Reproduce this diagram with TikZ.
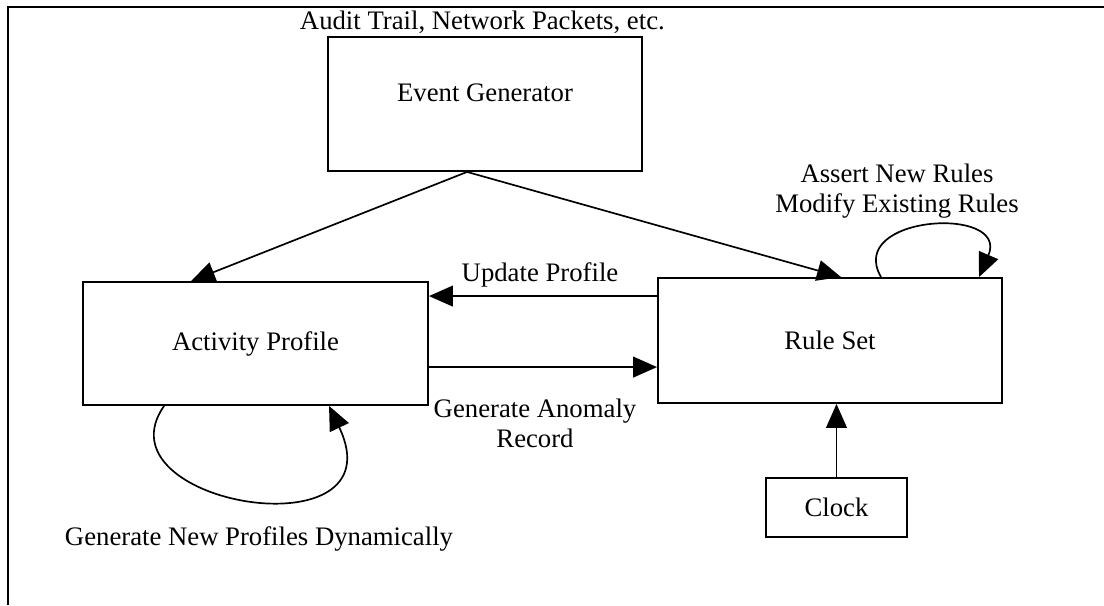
\documentclass[tikz,border=0pt]{standalone}
\usetikzlibrary{arrows.meta, calc}
\usepackage{fontspec}
\setmainfont{Liberation Serif}

\tikzset{
  box/.style={draw, line width=1.3pt, inner sep=0pt},
  arr/.style={line width=1.2pt, -{Triangle[length=0.6cm, width=0.52cm]}},
  every node/.style={font=\fontsize{19}{21.5}\selectfont}
}

\begin{document}
\begin{tikzpicture}[x=0.025cm, y=-0.025cm]
  \useasboundingbox (0,0) rectangle (1104,605);
  % page frame
  \draw[line width=1.5pt] (8,605) -- (8,7) -- (1104,7);

  \node[box, minimum width=7.85cm, minimum height=3.35cm, text depth=0.55cm] at (485,104)(eg){Event Generator};
  \node[box, minimum width=8.625cm, minimum height=3.075cm] at (255.5,343.5)(ap){Activity Profile};
  \node[box, minimum width=8.6cm, minimum height=3.125cm] at (830,340.5)(rs){Rule Set};
  \node[box, minimum width=3.525cm, minimum height=1.475cm] at (836.5,507.5)(clk){Clock};

  \node[anchor=west] at (295,22)(src){Audit Trail, Network Packets, etc.};

  \coordinate (egfoot) at ($(eg.south west)+(140,0)$);
  \draw[arr] (egfoot) -- ($(ap.north west)+(109,0)$);
  \draw[arr] (egfoot) -- ($(rs.north west)+(184,0)$);

  \draw[arr] ($(rs.north west)+(0,19)$) -- ($(ap.north east)+(0,15)$);
  \node at (540,275)(upd){Update Profile};
  \draw[arr] ($(ap.north east)+(0,86)$) -- ($(rs.north west)+(0,90)$);
  \node[align=center] at (535,423)(anom){Generate Anomaly\\Record};

  \draw[arr] (clk.north) -- (clk.north |- rs.south);

  % self loops
  \draw[arr] ($(rs.north west)+(224,0)$) .. controls (845,215) and (1010,205) .. ($(rs.north west)+(322,0)$);
  \node[align=center] at (897,191)(rules){Assert New Rules\\Modify Existing Rules};
  \draw[arr] ($(ap.south west)+(82,0)$) .. controls (95,505) and (400,555) .. ($(ap.south west)+(247,0)$);
  \node at (259,539)(gen){Generate New Profiles Dynamically};

\end{tikzpicture}
\end{document}
